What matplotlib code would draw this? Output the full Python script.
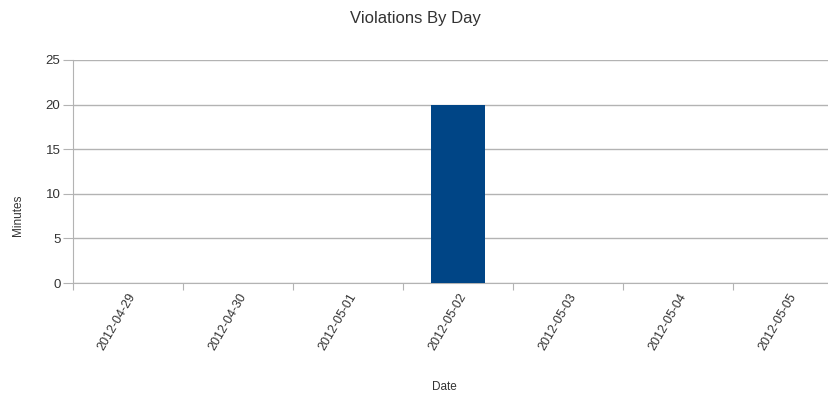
import numpy as np
import matplotlib.pyplot as plt

plt.rcParams['font.family'] = ['Liberation Sans', 'DejaVu Sans']

dates = ['2012-04-29', '2012-04-30', '2012-05-01', '2012-05-02',
         '2012-05-03', '2012-05-04', '2012-05-05']
minutes = [0, 0, 0, 20, 0, 0, 0]
y_ticks = [0, 5, 10, 15, 20, 25]

fig = plt.figure(figsize=(8.29, 3.99), dpi=100)
# plot area runs past the right edge of the picture, like the reference
ax = fig.add_axes([73 / 829, 116 / 399, 770 / 829, 223 / 399])

x = np.arange(len(dates))
ax.bar(x, minutes, width=0.49, color='#004586', zorder=3)

ax.set_xlim(-0.5, len(dates) - 0.5)
ax.set_ylim(0, 25)
ax.set_yticks(y_ticks)
ax.yaxis.grid(True, color='#b3b3b3', linewidth=1)
ax.set_axisbelow(True)

# boundary ticks between categories, labels at the centres
ax.set_xticks(np.arange(len(dates) + 1) - 0.5)
ax.set_xticklabels([])
ax.set_xticks(x, minor=True)
ax.set_xticklabels(dates, minor=True, rotation=60, ha='right',
                   rotation_mode='anchor', fontsize=9, color='#333333')
ax.tick_params(axis='x', which='minor', length=0, pad=6)
ax.tick_params(axis='x', which='major', length=5, color='#b3b3b3')
ax.tick_params(axis='y', length=7, color='#b3b3b3', labelsize=9.5,
               labelcolor='#333333', pad=2)

for side in ['top', 'right']:
    ax.spines[side].set_visible(False)
for side in ['left', 'bottom']:
    ax.spines[side].set_color('#b3b3b3')

fig.text(415 / 829, 1 - 19 / 399, 'Violations By Day', ha='center', va='center',
         fontsize=12, color='#333333')
fig.text(444 / 829, 1 - 387 / 399, 'Date', ha='center', va='center',
         fontsize=8.5, color='#333333')
fig.text(18 / 829, 1 - 215 / 399, 'Minutes', ha='center', va='center',
         rotation=90, fontsize=8.5, color='#333333')

fig.savefig('out.png', dpi=100)
